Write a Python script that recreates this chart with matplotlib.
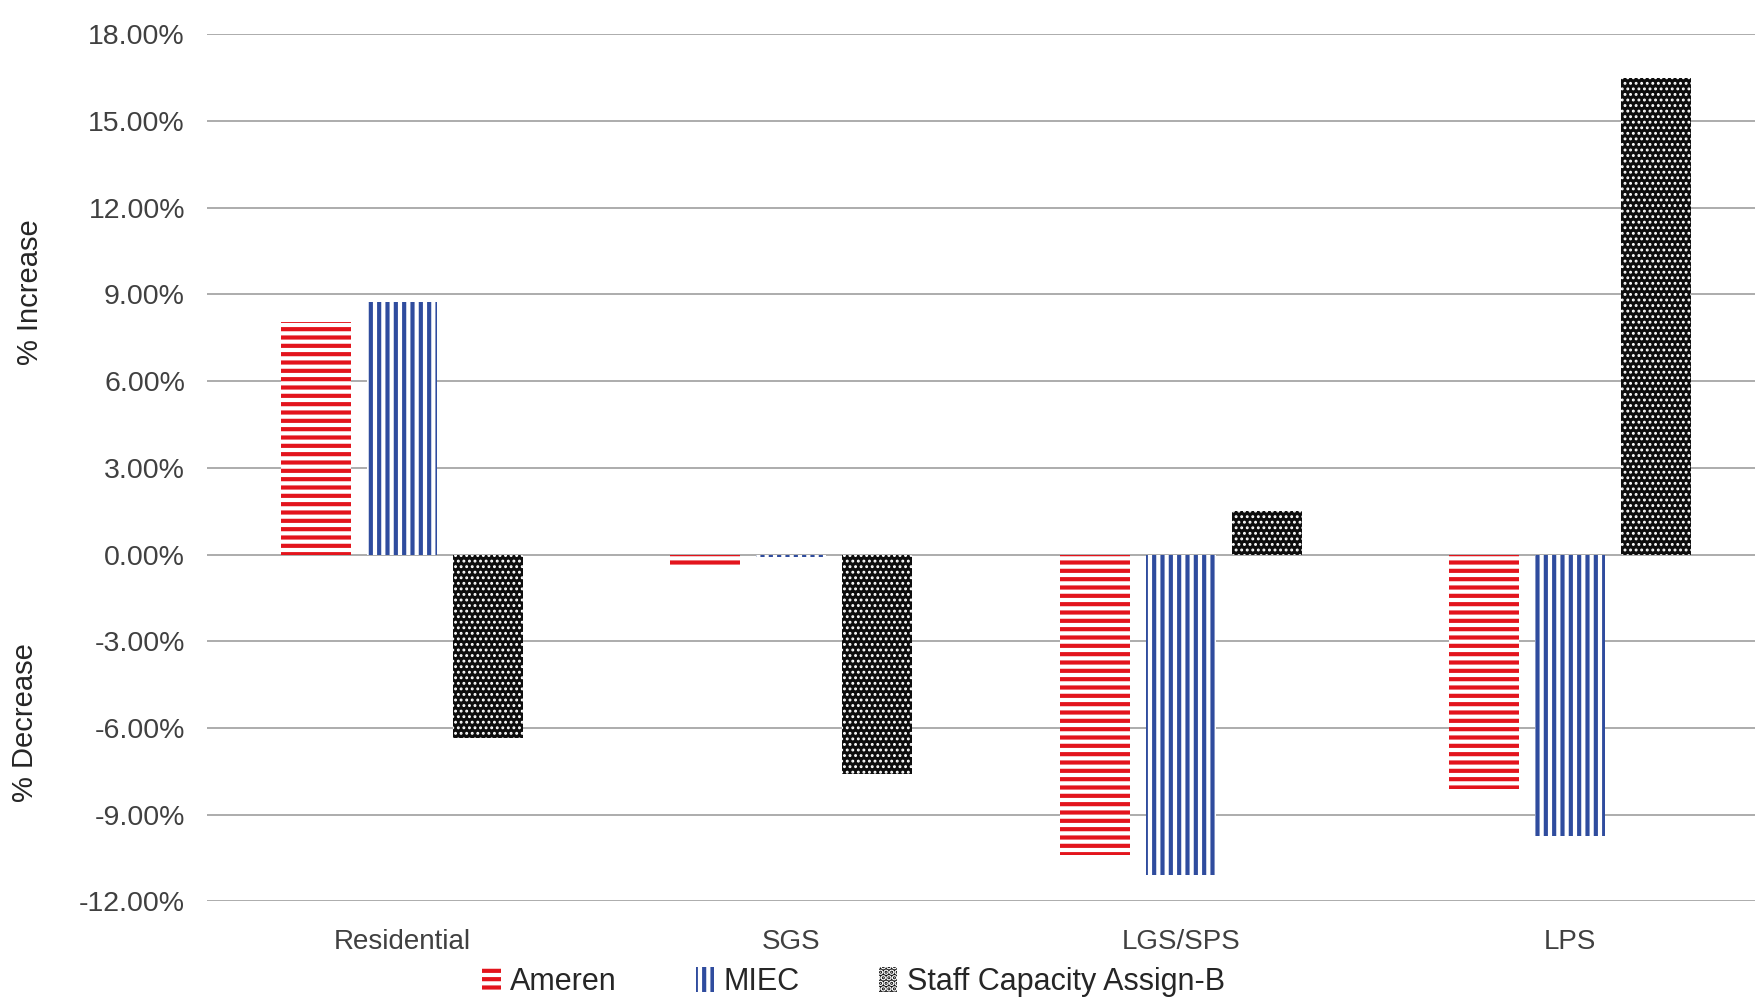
import matplotlib
matplotlib.use("Agg")
import matplotlib.pyplot as plt
import numpy as np

# values (percent)
categories = ["Residential", "SGS", "LGS/SPS", "LPS"]
ameren = [8.05, -0.4, -10.4, -8.1]
miec = [8.75, -0.1, -11.1, -9.75]
staff = [-6.35, -7.6, 1.5, 16.5]
series_names = ["Ameren", "MIEC", "Staff Capacity Assign-B"]
yticks = [-12, -9, -6, -3, 0, 3, 6, 9, 12, 15, 18]

plt.rcParams['font.family'] = ['Liberation Sans', 'DejaVu Sans']
plt.rcParams['hatch.linewidth'] = 3.0

fig = plt.figure(figsize=(17.56, 10.06), dpi=100)
ax = fig.add_axes([0.118, 0.104, 0.887, 0.862])

x = np.arange(len(categories))
pitch = 0.221
width = 0.18

b1 = ax.bar(x - pitch, ameren, width, facecolor='white', edgecolor='#e3141c',
            hatch='--', linewidth=0, zorder=3, label=series_names[0])
b2 = ax.bar(x, miec, width, facecolor='white', edgecolor='#2f4c9e',
            hatch='||', linewidth=0, zorder=3, label=series_names[1])
b3 = ax.bar(x + pitch, staff, width, facecolor='#0d0d0d', edgecolor='white',
            hatch='...', linewidth=0, zorder=3, label=series_names[2])

for p in b3:
    if hasattr(p, 'set_hatch_linewidth'):
        p.set_hatch_linewidth(1.3)

ax.set_xlim(-0.5, len(categories) - 0.5)
ax.set_ylim(-12, 18)
ax.set_yticks(yticks)
ax.set_yticklabels([f"{v:.2f}%" for v in yticks], fontsize=20.5, color='#404040')
ax.set_xticks(x)
ax.set_xticklabels(categories, fontsize=20, color='#404040')
ax.tick_params(axis='both', length=0)
ax.tick_params(axis='y', pad=16)
ax.tick_params(axis='x', pad=20)
ax.grid(axis='y', color='#a6a6a6', linewidth=1.3, zorder=0)
for s in ax.spines.values():
    s.set_visible(False)

fig.text(0.017, 0.71, "% Increase", rotation=90, ha='center', va='center',
         fontsize=21, color='#262626')
fig.text(0.014, 0.282, "% Decrease", rotation=90, ha='center', va='center',
         fontsize=21, color='#262626')

leg = fig.legend(handles=[b1, b2, b3], loc='center', bbox_to_anchor=(0.486, 0.024),
                 ncol=3, frameon=False, fontsize=22, handlelength=0.6,
                 handleheight=0.9, handletextpad=0.3, columnspacing=2.6)
for t in leg.get_texts():
    t.set_color('#262626')

fig.savefig("out.png", dpi=100)
